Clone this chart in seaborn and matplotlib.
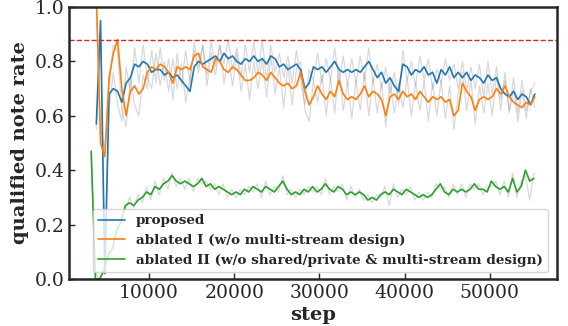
import numpy as np
import pandas as pd
import seaborn as sns
import matplotlib.pyplot as plt

# logging interval of the evaluation runs
STEP = 500
START_MAIN = 3800
START_ABL2 = 3200

# smoothed curves
proposed = [0.57, 0.95, 0.02, 0.68, 0.70, 0.69, 0.65, 0.72, 0.74, 0.79,
            0.78, 0.80, 0.79, 0.76, 0.77, 0.77, 0.75, 0.76, 0.74, 0.75,
            0.73, 0.71, 0.69, 0.78, 0.80, 0.79, 0.80, 0.81, 0.82, 0.80,
            0.83, 0.81, 0.82, 0.80, 0.79, 0.81, 0.80, 0.82, 0.80, 0.81,
            0.79, 0.82, 0.81, 0.78, 0.79, 0.77, 0.78, 0.79, 0.77, 0.70,
            0.72, 0.78, 0.77, 0.78, 0.76, 0.78, 0.80, 0.77, 0.76, 0.77,
            0.76, 0.77, 0.76, 0.78, 0.80, 0.77, 0.74, 0.76, 0.72, 0.74,
            0.71, 0.69, 0.79, 0.78, 0.75, 0.77, 0.76, 0.78, 0.75, 0.76,
            0.72, 0.77, 0.75, 0.78, 0.74, 0.76, 0.74, 0.76, 0.73, 0.75,
            0.74, 0.72, 0.75, 0.73, 0.74, 0.70, 0.68, 0.67, 0.69, 0.66,
            0.68, 0.67, 0.64, 0.68]
ablated1 = [1.05, 0.50, 0.45, 0.74, 0.83, 0.88, 0.70, 0.60, 0.69, 0.71,
            0.68, 0.70, 0.76, 0.78, 0.77, 0.79, 0.78, 0.76, 0.72, 0.78,
            0.77, 0.78, 0.77, 0.82, 0.83, 0.78, 0.77, 0.76, 0.81, 0.80,
            0.77, 0.76, 0.78, 0.77, 0.75, 0.73, 0.73, 0.74, 0.76, 0.75,
            0.73, 0.76, 0.74, 0.72, 0.71, 0.72, 0.70, 0.71, 0.76, 0.69,
            0.64, 0.67, 0.71, 0.68, 0.66, 0.69, 0.67, 0.73, 0.68, 0.66,
            0.67, 0.66, 0.68, 0.71, 0.67, 0.69, 0.68, 0.66, 0.60, 0.67,
            0.68, 0.66, 0.69, 0.67, 0.68, 0.66, 0.69, 0.67, 0.65, 0.67,
            0.66, 0.67, 0.65, 0.66, 0.60, 0.62, 0.72, 0.69, 0.67, 0.62,
            0.66, 0.67, 0.66, 0.67, 0.70, 0.68, 0.71, 0.67, 0.65, 0.64,
            0.63, 0.65, 0.64, 0.67]
ablated2 = [0.47, 0.00, 0.00, 0.03, 0.09, 0.11, 0.18, 0.21, 0.27, 0.28,
            0.27, 0.29, 0.30, 0.32, 0.31, 0.34, 0.33, 0.35, 0.36, 0.38,
            0.36, 0.35, 0.36, 0.35, 0.34, 0.35, 0.37, 0.34, 0.35, 0.33,
            0.34, 0.33, 0.32, 0.31, 0.32, 0.31, 0.33, 0.32, 0.34, 0.33,
            0.32, 0.34, 0.33, 0.32, 0.34, 0.36, 0.33, 0.31, 0.32, 0.31,
            0.33, 0.32, 0.34, 0.32, 0.33, 0.35, 0.33, 0.32, 0.34, 0.33,
            0.31, 0.32, 0.31, 0.32, 0.31, 0.29, 0.30, 0.29, 0.31, 0.32,
            0.31, 0.33, 0.32, 0.31, 0.33, 0.32, 0.31, 0.30, 0.31, 0.30,
            0.31, 0.33, 0.35, 0.32, 0.31, 0.33, 0.32, 0.33, 0.32, 0.33,
            0.35, 0.33, 0.33, 0.32, 0.36, 0.34, 0.33, 0.34, 0.32, 0.37,
            0.32, 0.34, 0.40, 0.36, 0.37]

# raw (unsmoothed) curves, drawn in grey underneath
proposed_raw = [0.55, 0.90, 0.05, 0.62, 0.76, 0.64, 0.58, 0.78, 0.69, 0.85,
                0.72, 0.86, 0.74, 0.70, 0.83, 0.71, 0.80, 0.69, 0.81, 0.70,
                0.79, 0.65, 0.74, 0.84, 0.76, 0.86, 0.75, 0.87, 0.78, 0.86,
                0.79, 0.88, 0.77, 0.85, 0.74, 0.86, 0.76, 0.87, 0.75, 0.88,
                0.73, 0.86, 0.76, 0.83, 0.74, 0.82, 0.72, 0.84, 0.73, 0.64,
                0.77, 0.73, 0.83, 0.72, 0.81, 0.73, 0.85, 0.72, 0.82, 0.71,
                0.81, 0.72, 0.82, 0.73, 0.85, 0.72, 0.79, 0.70, 0.78, 0.68,
                0.76, 0.64, 0.84, 0.73, 0.80, 0.71, 0.82, 0.73, 0.81, 0.70,
                0.77, 0.72, 0.81, 0.73, 0.79, 0.70, 0.80, 0.69, 0.78, 0.70,
                0.79, 0.67, 0.80, 0.68, 0.78, 0.66, 0.73, 0.62, 0.74, 0.61,
                0.73, 0.62, 0.69, 0.72]
ablated1_raw = [0.98, 0.55, 0.48, 0.70, 0.86, 0.84, 0.62, 0.56, 0.74, 0.64,
                0.60, 0.75, 0.70, 0.84, 0.72, 0.85, 0.73, 0.81, 0.66, 0.83,
                0.71, 0.84, 0.72, 0.87, 0.78, 0.86, 0.71, 0.83, 0.75, 0.86,
                0.72, 0.82, 0.71, 0.83, 0.69, 0.79, 0.66, 0.80, 0.70, 0.81,
                0.67, 0.82, 0.68, 0.78, 0.63, 0.79, 0.64, 0.77, 0.80, 0.62,
                0.58, 0.73, 0.65, 0.75, 0.60, 0.74, 0.61, 0.78, 0.62, 0.72,
                0.59, 0.73, 0.62, 0.76, 0.60, 0.74, 0.61, 0.72, 0.56, 0.73,
                0.61, 0.72, 0.63, 0.74, 0.60, 0.72, 0.62, 0.73, 0.58, 0.72,
                0.60, 0.73, 0.59, 0.71, 0.55, 0.68, 0.76, 0.62, 0.73, 0.57,
                0.71, 0.61, 0.72, 0.60, 0.75, 0.62, 0.76, 0.61, 0.70, 0.58,
                0.69, 0.59, 0.70, 0.63]
ablated2_raw = [0.45, 0.02, 0.00, 0.05, 0.07, 0.13, 0.16, 0.23, 0.25, 0.30,
                0.26, 0.31, 0.28, 0.34, 0.29, 0.36, 0.31, 0.37, 0.33, 0.39,
                0.34, 0.37, 0.33, 0.37, 0.32, 0.37, 0.35, 0.36, 0.33, 0.35,
                0.31, 0.35, 0.30, 0.33, 0.30, 0.33, 0.31, 0.34, 0.32, 0.35,
                0.30, 0.36, 0.31, 0.34, 0.32, 0.38, 0.31, 0.33, 0.30, 0.33,
                0.31, 0.34, 0.32, 0.34, 0.31, 0.37, 0.31, 0.34, 0.32, 0.35,
                0.29, 0.34, 0.30, 0.33, 0.29, 0.31, 0.28, 0.31, 0.30, 0.34,
                0.27, 0.35, 0.30, 0.33, 0.31, 0.34, 0.29, 0.32, 0.29, 0.32,
                0.30, 0.35, 0.33, 0.34, 0.30, 0.35, 0.31, 0.35, 0.30, 0.35,
                0.33, 0.35, 0.31, 0.34, 0.34, 0.36, 0.31, 0.36, 0.30, 0.39,
                0.30, 0.36, 0.38, 0.29, 0.39]

LABELS = ["proposed",
          "ablated I (w/o multi-stream design)",
          "ablated II (w/o shared/private & multi-stream design)"]
TARGET_RATE = 0.88

FONT_SIZE = 13.5
LABEL_SIZE = 14
LEGEND_SIZE = 9.7


def to_frame(start, values, name):
    steps = start + STEP * np.arange(len(values))
    return pd.DataFrame({"step": steps, "value": values, "method": name})


smooth_df = pd.concat([
    to_frame(START_MAIN, proposed, LABELS[0]),
    to_frame(START_MAIN, ablated1, LABELS[1]),
    to_frame(START_ABL2, ablated2, LABELS[2]),
], ignore_index=True)

raw_dfs = [
    to_frame(START_MAIN, proposed_raw, LABELS[0]),
    to_frame(START_MAIN, ablated1_raw, LABELS[1]),
    to_frame(START_ABL2, ablated2_raw, LABELS[2]),
]

sns.set_style("ticks")
plt.rcParams["font.family"] = ["DejaVu Serif"]
plt.rcParams["xtick.direction"] = "in"
plt.rcParams["ytick.direction"] = "in"

fig = plt.figure(figsize=(5.68, 3.26), dpi=100)
ax = fig.add_axes([0.1215, 0.1442, 0.8591, 0.8343])

for raw in raw_dfs:
    sns.lineplot(data=raw, x="step", y="value", color="grey", alpha=0.3,
                 linewidth=0.9, estimator=None, ax=ax, legend=False)

sns.lineplot(data=smooth_df, x="step", y="value", hue="method",
             palette=["tab:blue", "tab:orange", "tab:green"],
             linewidth=1.2, estimator=None, ax=ax)

ax.axhline(TARGET_RATE, color="tab:red", linestyle="--", linewidth=1.0)

ax.set_ylim(0, 1.0)
ax.set_yticks([0.0, 0.2, 0.4, 0.6, 0.8, 1.0])
ax.set_xticks([10000, 20000, 30000, 40000, 50000])
ax.tick_params(labelsize=FONT_SIZE, length=4, width=1)
for s in ax.spines.values():
    s.set_linewidth(1.8)

ax.set_xlabel("step", fontsize=LABEL_SIZE, fontweight="bold", labelpad=3)
ax.set_ylabel("qualified note rate", fontsize=LABEL_SIZE, fontweight="bold")
ax.legend(loc="lower center", bbox_to_anchor=(0.515, 0.0),
          prop={"weight": "bold", "size": LEGEND_SIZE}, framealpha=0.8)

fig.savefig("out.png", dpi=100)
